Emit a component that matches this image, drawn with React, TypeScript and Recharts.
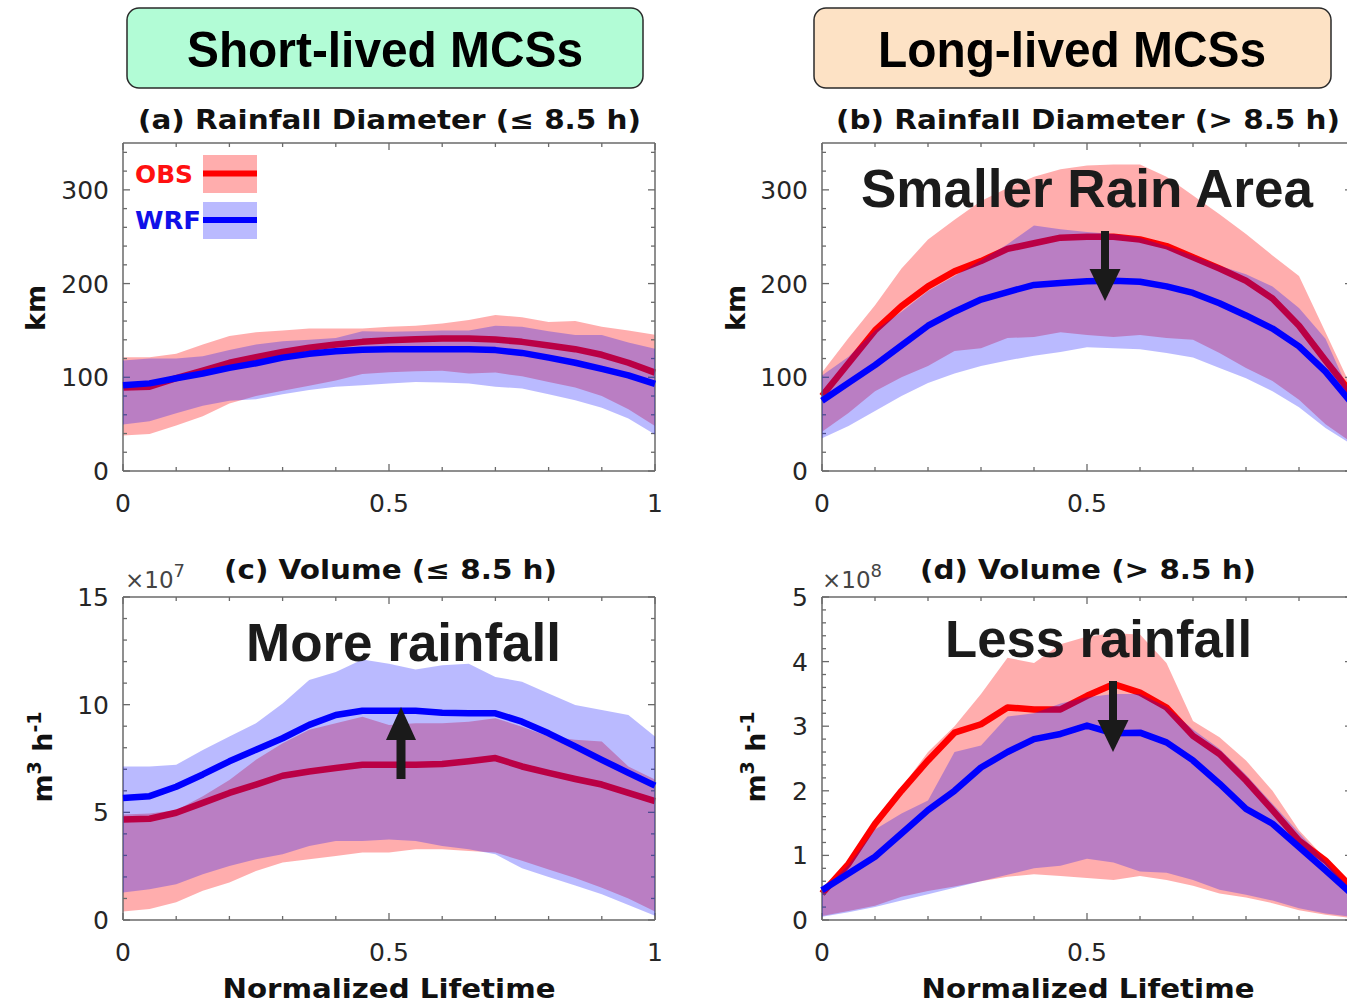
import React from 'react';
import { ComposedChart, Area, Line, XAxis, YAxis } from 'recharts';

// Normalized lifetime (x) positions
const lifetime = [0, 0.05, 0.1, 0.15, 0.2, 0.25, 0.3, 0.35, 0.4, 0.45, 0.5, 0.55, 0.6, 0.65, 0.7, 0.75, 0.8, 0.85, 0.9, 0.95, 1];

// (a) Rainfall diameter, short-lived (km)
const diamShortObs = [89, 90, 99, 107, 115.5, 121.5, 127, 131.5, 135, 137.8, 139.6, 140.6, 141.4, 141.4, 140.3, 137.8, 134, 130, 124, 115.5, 105];
const diamShortObsLo = [38, 39.5, 48.5, 58.5, 72, 80, 85.5, 91, 96.5, 103.5, 105.5, 106.5, 107, 104, 105, 101, 95, 89, 80, 66, 48];
const diamShortObsHi = [121.5, 121.5, 125, 135, 144, 148, 150, 152, 152, 152, 154, 155, 157.5, 161, 166.5, 164, 159, 160, 154, 150, 145.5];
const diamShortWrf = [91.5, 93.5, 99, 104, 110, 115, 121, 125, 127.7, 129.5, 130, 130, 130, 130, 129, 126, 121, 115.5, 109, 102, 93];
const diamShortWrfLo = [49.5, 53, 61.5, 69.5, 75, 76.5, 82, 86.5, 90, 91.5, 93.5, 95, 94.5, 93.5, 90, 88, 82, 75.5, 67.5, 56, 39];
const diamShortWrfHi = [118, 120, 120, 122.5, 129, 135, 138.5, 140, 142, 149, 148.5, 149, 150, 150, 155, 154, 149, 145, 145, 137, 130.5];

// (b) Rainfall diameter, long-lived (km)
const diamLongObs = [80, 115, 150, 176, 197, 213, 224, 237, 243, 249, 250, 250, 247, 240, 228, 216, 203, 184, 155, 118, 82];
const diamLongObsLo = [42, 62, 85, 100, 112, 128, 131, 142, 143, 148, 145, 143, 145, 142, 140, 126, 110, 96, 76, 50, 30];
const diamLongObsHi = [105, 142, 177, 216, 247, 268, 288, 302, 314, 322, 326, 327, 327, 314, 294, 274, 253, 230, 208, 148, 88];
const diamLongWrf = [75, 94, 113, 134, 155, 170, 183, 191, 198.5, 200.5, 202.5, 203, 202, 197, 190, 179, 166, 152, 133, 106, 72];
const diamLongWrfLo = [35, 48, 64, 80, 94, 104, 112, 118, 123, 127, 132, 131, 130, 126, 121, 110, 99, 85, 68, 46, 28];
const diamLongWrfHi = [102, 122, 150, 170, 192, 208, 225, 242, 262, 258, 255, 253, 249, 240, 230, 219, 210, 197, 174, 141, 78];

// (c) Volume, short-lived (x 1e7 m3 h-1)
const volShortObs = [4.67, 4.7, 4.98, 5.44, 5.9, 6.29, 6.7, 6.9, 7.06, 7.21, 7.21, 7.21, 7.24, 7.37, 7.52, 7.13, 6.83, 6.55, 6.29, 5.9, 5.52];
const volShortObsLo = [0.39, 0.51, 0.82, 1.36, 1.74, 2.28, 2.67, 2.82, 2.97, 3.13, 3.13, 3.28, 3.28, 3.2, 3.13, 2.75, 2.35, 1.95, 1.5, 1.0, 0.4];
const volShortObsHi = [4.9, 4.95, 5.1, 5.75, 6.5, 7.44, 8.21, 8.83, 9.14, 9.44, 9.06, 9.14, 9.14, 9.21, 9.37, 8.98, 8.52, 8.37, 8.29, 7.13, 6.52];
const volShortWrf = [5.67, 5.75, 6.19, 6.76, 7.37, 7.91, 8.44, 9.06, 9.52, 9.72, 9.72, 9.72, 9.63, 9.6, 9.6, 9.21, 8.67, 8.06, 7.44, 6.83, 6.24];
const volShortWrfLo = [1.28, 1.43, 1.66, 2.13, 2.51, 2.82, 3.05, 3.44, 3.67, 3.67, 3.74, 3.67, 3.44, 3.28, 3.05, 2.4, 2.0, 1.6, 1.2, 0.7, 0.2];
const volShortWrfHi = [7.13, 7.13, 7.21, 7.9, 8.52, 9.14, 10.06, 11.14, 11.52, 12.1, 11.9, 11.63, 11.83, 11.9, 11.29, 11.06, 10.52, 9.98, 9.75, 9.52, 8.52];

// (d) Volume, long-lived (x 1e8 m3 h-1)
const volLongObs = [0.41, 0.87, 1.49, 2.0, 2.47, 2.9, 3.03, 3.29, 3.26, 3.26, 3.47, 3.65, 3.52, 3.29, 2.85, 2.57, 2.16, 1.7, 1.23, 0.92, 0.5];
const volLongObsLo = [0.06, 0.14, 0.22, 0.36, 0.45, 0.52, 0.6, 0.67, 0.71, 0.68, 0.65, 0.62, 0.68, 0.62, 0.53, 0.41, 0.35, 0.26, 0.15, 0.08, 0.03];
const volLongObsHi = [0.45, 0.9, 1.5, 2.05, 2.6, 3.0, 3.5, 4.06, 3.98, 4.27, 4.39, 4.44, 4.42, 3.98, 3.08, 2.83, 2.47, 2.0, 1.39, 0.95, 0.5];
const volLongWrf = [0.46, 0.72, 0.98, 1.34, 1.7, 2.0, 2.36, 2.6, 2.8, 2.88, 3.01, 2.89, 2.9, 2.75, 2.47, 2.11, 1.72, 1.49, 1.13, 0.77, 0.4];
const volLongWrfLo = [0.05, 0.12, 0.2, 0.3, 0.4, 0.5, 0.6, 0.7, 0.8, 0.84, 0.95, 0.89, 0.75, 0.73, 0.62, 0.47, 0.39, 0.3, 0.18, 0.1, 0.05];
const volLongWrfHi = [0.45, 0.85, 1.4, 1.65, 1.85, 2.6, 2.7, 3.15, 3.2, 3.35, 3.45, 3.5, 3.5, 3.3, 2.95, 2.65, 2.25, 1.8, 1.35, 0.9, 0.45];

// Ticks
const xTicks = [0, 0.1, 0.2, 0.3, 0.4, 0.5, 0.6, 0.7, 0.8, 0.9, 1];
const xTickLabels = [0, 0.5, 1];
const diamTicks = [0, 20, 40, 60, 80, 100, 120, 140, 160, 180, 200, 220, 240, 260, 280, 300, 320, 340];
const diamTickLabels = [0, 100, 200, 300];
const volShortTicks = [0, 1, 2, 3, 4, 5, 6, 7, 8, 9, 10, 11, 12, 13, 14, 15];
const volShortTickLabels = [0, 5, 10, 15];
const volLongTicks = [0, 0.2, 0.4, 0.6, 0.8, 1, 1.2, 1.4, 1.6, 1.8, 2, 2.2, 2.4, 2.6, 2.8, 3, 3.2, 3.4, 3.6, 3.8, 4, 4.2, 4.4, 4.6, 4.8, 5];
const volLongTickLabels = [0, 1, 2, 3, 4, 5];

const buildRows = (obs: number[], obsLo: number[], obsHi: number[], wrf: number[], wrfLo: number[], wrfHi: number[]) =>
  lifetime.map((t, i) => ({ t, obs: obs[i], obsLo: obsLo[i], obsHi: obsHi[i], wrf: wrf[i], wrfLo: wrfLo[i], wrfHi: wrfHi[i] }));

const rowsA = buildRows(diamShortObs, diamShortObsLo, diamShortObsHi, diamShortWrf, diamShortWrfLo, diamShortWrfHi);
const rowsB = buildRows(diamLongObs, diamLongObsLo, diamLongObsHi, diamLongWrf, diamLongWrfLo, diamLongWrfHi);
const rowsC = buildRows(volShortObs, volShortObsLo, volShortObsHi, volShortWrf, volShortWrfLo, volShortWrfHi);
const rowsD = buildRows(volLongObs, volLongObsLo, volLongObsHi, volLongWrf, volLongWrfLo, volLongWrfHi);

const AXIS = '#6a6a6a';
const TICKTXT = '#262626';
const RED = '#ff0000';
const BLUE = '#0000ff';
const RED_ALPHA = 0.32;
const BLUE_ALPHA = 0.27;
const FONT = '"DejaVu Sans", sans-serif';
const NARROW = '"Liberation Sans Narrow", "Liberation Sans", Arial, sans-serif';
const MAJ = 7;
const MIN = 4;

const BottomTick = (p: any) => {
  const v = p.payload.value;
  const major = xTickLabels.includes(v);
  const showLabel = major && !(p.hideLast && v === 1);
  return (
    <g>
      <line x1={p.x} y1={p.y} x2={p.x} y2={p.y - (major ? MAJ : MIN)} stroke={AXIS} strokeWidth={1.3} />
      {showLabel && (
        <text x={p.x} y={p.y + 41} textAnchor="middle" fontFamily={FONT} fontSize={25} fill={TICKTXT}>
          {String(v)}
        </text>
      )}
    </g>
  );
};

const TopTick = (p: any) => {
  const v = p.payload.value;
  const major = xTickLabels.includes(v);
  return <line x1={p.x} y1={p.y} x2={p.x} y2={p.y + (major ? MAJ : MIN)} stroke={AXIS} strokeWidth={1.3} />;
};

const LeftTick = (p: any) => {
  const v = p.payload.value;
  const major = p.labels.includes(v);
  return (
    <g>
      <line x1={p.x} y1={p.y} x2={p.x + (major ? MAJ : MIN)} y2={p.y} stroke={AXIS} strokeWidth={1.3} />
      {major && (
        <text x={p.x - 14} y={p.y} dy="0.36em" textAnchor="end" fontFamily={FONT} fontSize={25} fill={TICKTXT}>
          {String(v)}
        </text>
      )}
    </g>
  );
};

const RightTick = (p: any) => {
  const v = p.payload.value;
  const major = p.labels.includes(v);
  return <line x1={p.x} y1={p.y} x2={p.x - (major ? MAJ : MIN)} y2={p.y} stroke={AXIS} strokeWidth={1.3} />;
};

type PanelProps = {
  rows: any[];
  yMax: number;
  yTicks: number[];
  yLabels: number[];
  left: number;
  top: number;
  width: number;
  height: number;
  hideLast?: boolean;
};

const MARGIN = { top: 20, right: 20, bottom: 0, left: 0 };

function axes(visible: boolean, yMax: number, yTicks: number[], yLabels: number[], hideLast: boolean) {
  const line = visible ? { stroke: AXIS, strokeWidth: 1.5 } : false;
  return [
    <XAxis
      key="xb"
      xAxisId="b"
      dataKey="t"
      type="number"
      domain={[0, 1]}
      ticks={xTicks}
      interval={0}
      tickSize={0}
      tickMargin={0}
      height={50}
      orientation="bottom"
      axisLine={line}
      tickLine={false}
      tick={visible ? (p: any) => <BottomTick {...p} hideLast={hideLast} /> : false}
    />,
    <XAxis
      key="xt"
      xAxisId="t"
      dataKey="t"
      type="number"
      domain={[0, 1]}
      ticks={xTicks}
      interval={0}
      tickSize={0}
      tickMargin={0}
      height={1}
      orientation="top"
      allowDataOverflow
      axisLine={line}
      tickLine={false}
      tick={visible ? (p: any) => <TopTick {...p} /> : false}
    />,
    <YAxis
      key="yl"
      yAxisId="l"
      type="number"
      domain={[0, yMax]}
      ticks={yTicks}
      interval={0}
      tickSize={0}
      tickMargin={0}
      width={123}
      orientation="left"
      axisLine={line}
      tickLine={false}
      tick={visible ? (p: any) => <LeftTick {...p} labels={yLabels} /> : false}
    />,
    <YAxis
      key="yr"
      yAxisId="r"
      type="number"
      domain={[0, yMax]}
      ticks={yTicks}
      interval={0}
      tickSize={0}
      tickMargin={0}
      width={1}
      orientation="right"
      allowDataOverflow
      axisLine={line}
      tickLine={false}
      tick={visible ? (p: any) => <RightTick {...p} labels={yLabels} /> : false}
    />,
  ];
}

function Panel({ rows, yMax, yTicks, yLabels, left, top, width, height, hideLast = false }: PanelProps) {
  return (
    <div style={{ position: 'absolute', left, top, width, height }}>
      {/* Layer 1: axes, OBS band and OBS line */}
      <div style={{ position: 'absolute', left: 0, top: 0 }}>
        <ComposedChart width={width} height={height} data={rows} margin={MARGIN}>
          {axes(true, yMax, yTicks, yLabels, hideLast)}
          <Area
            xAxisId="b"
            yAxisId="l"
            type="linear"
            dataKey={(d: any) => [d.obsLo, d.obsHi]}
            fill={RED}
            fillOpacity={RED_ALPHA}
            stroke="none"
            isAnimationActive={false}
          />
          <Line xAxisId="b" yAxisId="l" type="linear" dataKey="obs" stroke={RED} strokeWidth={6.5} dot={false} activeDot={false} strokeLinejoin="round" isAnimationActive={false} />
          <Line xAxisId="t" yAxisId="r" type="linear" dataKey="obs" stroke="none" strokeWidth={0} dot={false} activeDot={false} isAnimationActive={false} />
        </ComposedChart>
      </div>
      {/* Layer 2: WRF band and WRF line drawn over OBS */}
      <div style={{ position: 'absolute', left: 0, top: 0 }}>
        <ComposedChart width={width} height={height} data={rows} margin={MARGIN}>
          {axes(false, yMax, yTicks, yLabels, hideLast)}
          <Area
            xAxisId="b"
            yAxisId="l"
            type="linear"
            dataKey={(d: any) => [d.wrfLo, d.wrfHi]}
            fill={BLUE}
            fillOpacity={BLUE_ALPHA}
            stroke="none"
            isAnimationActive={false}
          />
          <Line xAxisId="b" yAxisId="l" type="linear" dataKey="wrf" stroke={BLUE} strokeWidth={6.5} dot={false} activeDot={false} strokeLinejoin="round" isAnimationActive={false} />
          <Line xAxisId="t" yAxisId="r" type="linear" dataKey="wrf" stroke="none" strokeWidth={0} dot={false} activeDot={false} isAnimationActive={false} />
        </ComposedChart>
      </div>
    </div>
  );
}

const Arrow = ({ x, y1, y2, shaft, head, headLen }: { x: number; y1: number; y2: number; shaft: number; head: number; headLen: number }) => {
  const dir = y2 > y1 ? 1 : -1;
  const hb = y2 - dir * headLen;
  return (
    <g fill="#1a1a1a">
      <rect x={x - shaft / 2} y={Math.min(y1, hb)} width={shaft} height={Math.abs(hb - y1) + 1} />
      <polygon points={`${x - head / 2},${hb} ${x + head / 2},${hb} ${x},${y2}`} />
    </g>
  );
};

export default function App() {
  return (
    <div style={{ position: 'absolute', left: 0, top: 0, width: 1347, height: 1006, overflow: 'hidden', background: '#fff' }}>
      <Panel rows={rowsA} yMax={350} yTicks={diamTicks} yLabels={diamTickLabels} left={0} top={122} width={676} height={399} />
      <Panel rows={rowsB} yMax={350} yTicks={diamTicks} yLabels={diamTickLabels} left={699} top={122} width={674} height={399} hideLast />
      <Panel rows={rowsC} yMax={15} yTicks={volShortTicks} yLabels={volShortTickLabels} left={0} top={576} width={676} height={394} />
      <Panel rows={rowsD} yMax={5} yTicks={volLongTicks} yLabels={volLongTickLabels} left={699} top={576} width={674} height={394} hideLast />

      <svg width={1347} height={1006} style={{ position: 'absolute', left: 0, top: 0, pointerEvents: 'none', zIndex: 5 }}>
        {/* Header boxes */}
        <rect x={127} y={8} width={516} height={80} rx={12} fill="#b2fcd6" stroke="#2a2a2a" strokeWidth={1.5} />
        <text x={385} y={67} textAnchor="middle" fontFamily={NARROW} fontWeight="bold" fontSize={50} fill="#000" textLength={396} lengthAdjust="spacingAndGlyphs">
          Short-lived MCSs
        </text>
        <rect x={814} y={8} width={517} height={80} rx={12} fill="#fde2c5" stroke="#2a2a2a" strokeWidth={1.5} />
        <text x={1072} y={67} textAnchor="middle" fontFamily={NARROW} fontWeight="bold" fontSize={50} fill="#000" textLength={388} lengthAdjust="spacingAndGlyphs">
          Long-lived MCSs
        </text>

        {/* Panel titles */}
        <text x={389.5} y={129} textAnchor="middle" fontFamily={FONT} fontWeight="bold" fontSize={26} fill="#111" textLength={503} lengthAdjust="spacingAndGlyphs">
          (a) Rainfall Diameter (≤ 8.5 h)
        </text>
        <text x={1088} y={129} textAnchor="middle" fontFamily={FONT} fontWeight="bold" fontSize={26} fill="#111" textLength={504} lengthAdjust="spacingAndGlyphs">
          (b) Rainfall Diameter (&gt; 8.5 h)
        </text>
        <text x={390.5} y={579} textAnchor="middle" fontFamily={FONT} fontWeight="bold" fontSize={26} fill="#111" textLength={333} lengthAdjust="spacingAndGlyphs">
          (c) Volume (≤ 8.5 h)
        </text>
        <text x={1088} y={579} textAnchor="middle" fontFamily={FONT} fontWeight="bold" fontSize={26} fill="#111" textLength={336} lengthAdjust="spacingAndGlyphs">
          (d) Volume (&gt; 8.5 h)
        </text>

        {/* exponent labels */}
        <text x={125} y={588} fontFamily={FONT} fontSize={23} fill="#444">
          ×10<tspan dy={-11} fontSize={18}>7</tspan>
        </text>
        <text x={822} y={588} fontFamily={FONT} fontSize={23} fill="#444">
          ×10<tspan dy={-11} fontSize={18}>8</tspan>
        </text>

        {/* Y axis labels */}
        <text x={45} y={308} transform="rotate(-90 45 308)" textAnchor="middle" fontFamily={FONT} fontWeight="bold" fontSize={27} fill="#111">
          km
        </text>
        <text x={745} y={308} transform="rotate(-90 745 308)" textAnchor="middle" fontFamily={FONT} fontWeight="bold" fontSize={27} fill="#111">
          km
        </text>
        <text x={52} y={757} transform="rotate(-90 52 757)" textAnchor="middle" fontFamily={FONT} fontWeight="bold" fontSize={27} fill="#111">
          m<tspan dy={-11} fontSize={19}>3</tspan>
          <tspan dy={11}> h</tspan>
          <tspan dy={-11} fontSize={19}>-1</tspan>
        </text>
        <text x={765} y={757} transform="rotate(-90 765 757)" textAnchor="middle" fontFamily={FONT} fontWeight="bold" fontSize={27} fill="#111">
          m<tspan dy={-11} fontSize={19}>3</tspan>
          <tspan dy={11}> h</tspan>
          <tspan dy={-11} fontSize={19}>-1</tspan>
        </text>

        {/* X axis labels */}
        <text x={389} y={998} textAnchor="middle" fontFamily={FONT} fontWeight="bold" fontSize={27} fill="#111" textLength={333} lengthAdjust="spacingAndGlyphs">
          Normalized Lifetime
        </text>
        <text x={1088} y={998} textAnchor="middle" fontFamily={FONT} fontWeight="bold" fontSize={27} fill="#111" textLength={333} lengthAdjust="spacingAndGlyphs">
          Normalized Lifetime
        </text>

        {/* Legend in (a) */}
        <text x={135} y={183} fontFamily={FONT} fontWeight="bold" fontSize={25} fill="#ff1010" textLength={58} lengthAdjust="spacingAndGlyphs">
          OBS
        </text>
        <rect x={203} y={155} width={54} height={38} fill={RED} fillOpacity={RED_ALPHA} />
        <line x1={203} y1={173.5} x2={257} y2={173.5} stroke={RED} strokeWidth={6} />
        <text x={135} y={229} fontFamily={FONT} fontWeight="bold" fontSize={25} fill="#1010e8" textLength={66} lengthAdjust="spacingAndGlyphs">
          WRF
        </text>
        <rect x={203} y={202} width={54} height={37} fill={BLUE} fillOpacity={BLUE_ALPHA} />
        <line x1={203} y1={220} x2={257} y2={220} stroke={BLUE} strokeWidth={6} />

        {/* Annotations */}
        <text x={1087} y={207} textAnchor="middle" fontFamily={NARROW} fontWeight="bold" fontSize={54} fill="#1b1b1b" textLength={452} lengthAdjust="spacingAndGlyphs">
          Smaller Rain Area
        </text>
        <Arrow x={1105} y1={231} y2={301} shaft={8} head={31} headLen={32} />
        <text x={403.5} y={661} textAnchor="middle" fontFamily={NARROW} fontWeight="bold" fontSize={53} fill="#1b1b1b" textLength={315} lengthAdjust="spacingAndGlyphs">
          More rainfall
        </text>
        <Arrow x={401} y1={778} y2={707} shaft={9} head={30} headLen={33} />
        <text x={1098.5} y={657} textAnchor="middle" fontFamily={NARROW} fontWeight="bold" fontSize={51} fill="#1b1b1b" textLength={307} lengthAdjust="spacingAndGlyphs">
          Less rainfall
        </text>
        <Arrow x={1113} y1={681} y2={752} shaft={8} head={31} headLen={32} />
      </svg>
    </div>
  );
}
